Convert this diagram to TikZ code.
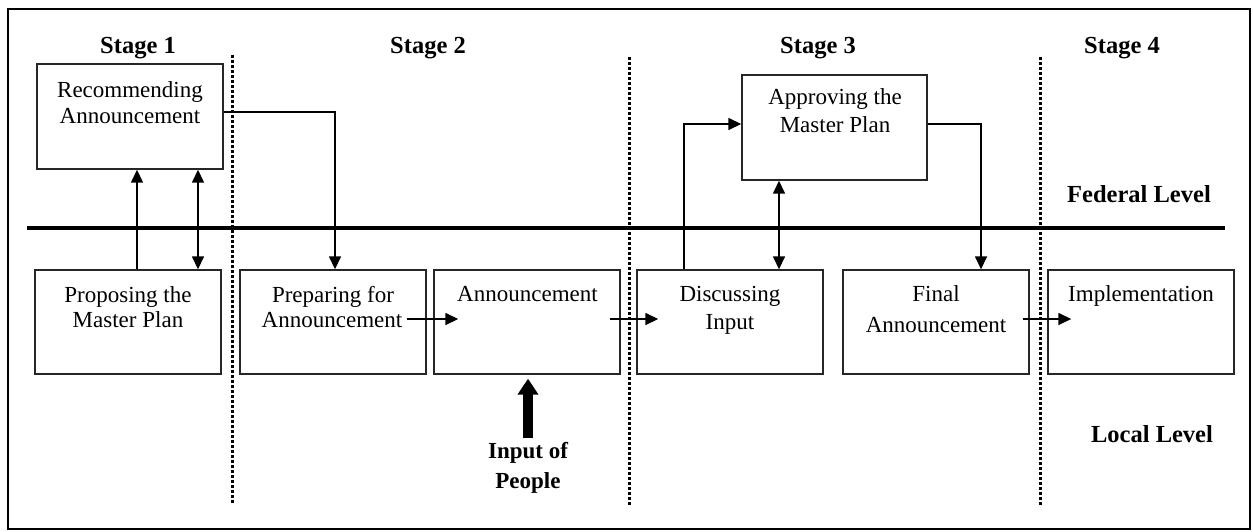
\documentclass[tikz,border=0pt]{standalone}
\usepackage{fontspec}
\setmainfont{Liberation Serif}
\usetikzlibrary{arrows.meta}

\begin{document}
\begin{tikzpicture}[x=1pt,y=-1pt,
  stagebox/.style={draw=black!85,line width=1.4pt,minimum width=186pt,minimum height=104pt,inner sep=0pt},
  txt/.style={anchor=base,inner sep=0pt,font=\fontsize{23}{26}\selectfont},
  head/.style={anchor=base,inner sep=0pt,font=\fontsize{24.5}{28}\selectfont\bfseries},
  arr/.style={line width=1.5pt,-{Triangle[length=13pt,width=12pt]}},
  darr/.style={line width=1.5pt,{Triangle[length=13pt,width=12pt]}-{Triangle[length=13pt,width=12pt]}},
  divider/.style={line width=3pt,dash pattern=on 2.6pt off 2.4pt},
  ]
\useasboundingbox (0,0) rectangle (1253,531);
\fill[white] (0,0) rectangle (1253,531);
\draw[line width=1.6pt] (8,9) rectangle (1250,529);

% stage headings
\node[head] (s1) at (138,53.5) {Stage 1};
\node[head] (s2) at (428,53.5) {Stage 2};
\node[head] (s3) at (818,53.5) {Stage 3};
\node[head] (s4) at (1122,53.5) {Stage 4};

% stage dividers
\coordinate (d1t) at (232,55);  \coordinate (d1b) at (232,504);
\coordinate (d2t) at (629,57);  \coordinate (d2b) at (629,505);
\coordinate (d3t) at (1040,57); \coordinate (d3b) at (1040,505);
\draw[divider] (d1t) -- (d1b);
\draw[divider] (d2t) -- (d2b);
\draw[divider] (d3t) -- (d3b);

% federal / local boundary
\coordinate (bl) at (27,228);
\coordinate (br) at (1225,228);
\draw[line width=4.5pt] (bl) -- (br);
\node[head] (fed) at (1139,202) {Federal Level};
\node[head] (loc) at (1152,442) {Local Level};

% boxes
\node[stagebox,minimum height=105pt] (rec) at (130,116.5) {};
\node[stagebox] (prop) at (128,322) {};
\node[stagebox] (prep) at (333,322) {};
\node[stagebox] (ann)  at (527,322) {};
\node[stagebox] (disc) at (730,322) {};
\node[stagebox] (fin)  at (936,322) {};
\node[stagebox] (impl) at (1141,322) {};
\node[stagebox,minimum width=185pt,minimum height=105pt] (appr) at (834.5,127.5) {};

% box texts
\node[txt] (rec1) at (130,97) {Recommending};
\node[txt] (rec2) at (130,123) {Announcement};
\node[txt] (prop1) at (128,302) {Proposing the};
\node[txt] (prop2) at (128,327) {Master Plan};
\node[txt] (prep1) at (333,302) {Preparing for};
\node[txt] (prep2) at (332,327) {Announcement};
\node[txt] (ann1) at (527.5,301) {Announcement};
\node[txt] (disc1) at (730,301) {Discussing};
\node[txt] (disc2) at (730,329) {Input};
\node[txt] (fin1) at (936,301) {Final};
\node[txt] (fin2) at (936,332) {Announcement};
\node[txt] (impl1) at (1141,301) {Implementation};
\node[txt] (appr1) at (835,104) {Approving the};
\node[txt] (appr2) at (835,132) {Master Plan};

% public input (base anchor sits on the last line)
\node[anchor=base,inner sep=0pt,align=center,font=\fontsize{23}{30}\selectfont\bfseries] (inp) at (528,488) {Input of\\People};

% connector columns
\coordinate (x1) at (137,0);
\coordinate (x2) at (198,0);
\coordinate (x3) at (335,0);
\coordinate (x4) at (684,0);
\coordinate (x5) at (779,0);
\coordinate (x6) at (981,0);
\coordinate (yr) at (0,112);
\coordinate (ya) at (0,124);
\coordinate (yi) at (0,438);

% stage 1
\draw[arr] (prop.north -| x1) -- (rec.south -| x1);
\draw[darr] (rec.south -| x2) -- (prop.north -| x2);
% stage 1 -> stage 2
\draw[arr] (rec.east |- yr) -- (x3 |- yr) -- (prep.north -| x3);
% local flow
\draw[arr] ([shift={(-20,-3)}]prep.east) -- ([shift={(25,-3)}]ann.west);
\draw[arr] ([shift={(-11,-3)}]ann.east) -- ([shift={(22,-3)}]disc.west);
\draw[arr] ([shift={(-7,-3)}]fin.east) -- ([shift={(24,-3)}]impl.west);
% stage 3 loop
\draw[arr] (disc.north -| x4) -- (x4 |- ya) -- (appr.west |- ya);
\draw[darr] (appr.south -| x5) -- (disc.north -| x5);
\draw[arr] (appr.east |- ya) -- (x6 |- ya) -- (fin.north -| x6);
% public input arrow
\draw[line width=10.5pt,-{Triangle[length=16pt,width=20pt]}] (inp |- yi) -- ([yshift=-4pt]ann.south -| inp);
\end{tikzpicture}
\end{document}
